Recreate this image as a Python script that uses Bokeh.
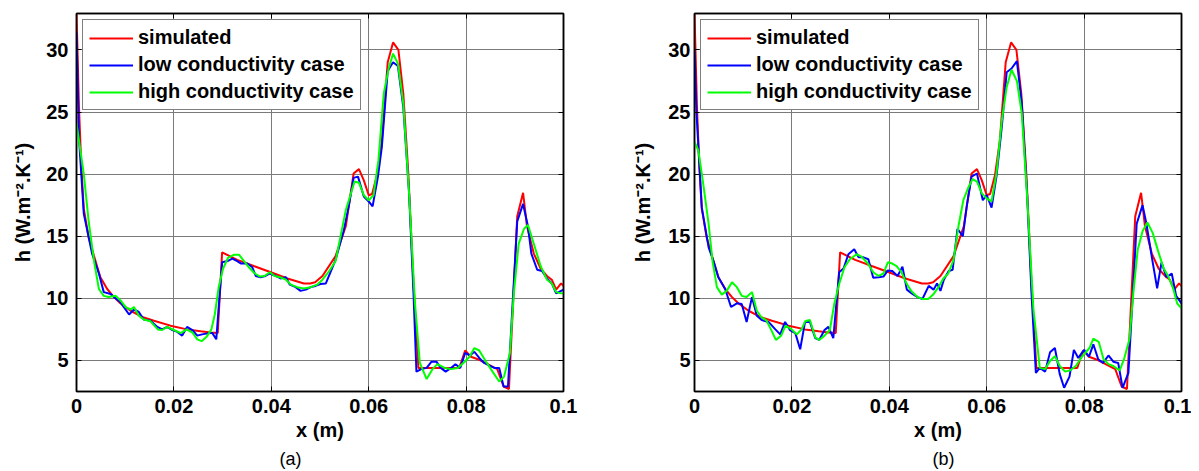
from bokeh.plotting import figure
from bokeh.models import Range1d, FixedTicker, LinearAxis, Legend, LegendItem, Title
from bokeh.layouts import row
from bokeh.embed import file_html
from bokeh.resources import INLINE

# ---------------- data ----------------
x_tick_labels = ["0", "0.02", "0.04", "0.06", "0.08", "0.1"]
y_ticks = [5, 10, 15, 20, 25, 30]
series_names = ["simulated", "low conductivity case", "high conductivity case"]
captions = ["(a)", "(b)"]

x_sim = [0, 0.0005, 0.001, 0.0015, 0.0025, 0.0036, 0.0049, 0.0063, 0.0077, 0.009, 0.0111,
         0.0135, 0.0159, 0.0193, 0.0227, 0.0255, 0.0275, 0.029, 0.0299, 0.033, 0.0364,
         0.0399, 0.0433, 0.0467, 0.048, 0.049, 0.0505, 0.0532, 0.0553, 0.0569, 0.058,
         0.059, 0.06, 0.0607, 0.0617, 0.0627, 0.0639, 0.065, 0.0661, 0.0671, 0.0681,
         0.0692, 0.0702, 0.0786, 0.0798, 0.081, 0.0824, 0.0844, 0.0864, 0.0877, 0.0888,
         0.0905, 0.0917, 0.0925, 0.0939, 0.0953, 0.0966, 0.0976, 0.0985, 0.0995, 0.1]
h_sim = [33, 25.5, 20.5, 17.2, 14.9, 13.4, 11.7, 10.75, 10.1, 9.6, 9.0,
         8.5, 8.2, 7.8, 7.5, 7.35, 7.25, 7.2, 13.7, 13.1, 12.6,
         12.1, 11.6, 11.2, 11.2, 11.3, 11.8, 13.4, 15.8, 20.05, 20.4,
         19.5, 18.3, 18.4, 19.9, 22.7, 29.0, 30.6, 30.0, 26.5, 20.3,
         11.2, 4.4, 4.4, 5.8, 5.3, 5.1, 4.7, 4.3, 2.9, 2.7,
         16.6, 18.5, 15.8, 13.6, 12.4, 11.8, 11.5, 10.7, 11.2, 11.0]

# panel (a)
x_low_a = [0, 0.0005, 0.0015, 0.0032, 0.0046, 0.0056, 0.007, 0.0077, 0.009, 0.0108, 0.0118,
           0.0128, 0.0138, 0.0152, 0.0166, 0.0176, 0.0186, 0.0197, 0.0207, 0.0217, 0.0227,
           0.0238, 0.0248, 0.0258, 0.0272, 0.0279, 0.0287, 0.0299, 0.031, 0.032, 0.033,
           0.0338, 0.0351, 0.0361, 0.0368, 0.0378, 0.0388, 0.0397, 0.0409, 0.0419, 0.043,
           0.0438, 0.045, 0.046, 0.0471, 0.0481, 0.0491, 0.0501, 0.0512, 0.0532, 0.0549,
           0.0559, 0.0569, 0.0578, 0.059, 0.06, 0.0608, 0.0619, 0.0627, 0.0639, 0.065,
           0.066, 0.0671, 0.0683, 0.0692, 0.0698, 0.0708, 0.0719, 0.0729, 0.0739, 0.0748,
           0.0758, 0.0769, 0.0778, 0.0788, 0.0798, 0.0808, 0.0817, 0.0827, 0.0837, 0.0847,
           0.0858, 0.0868, 0.0877, 0.0886, 0.0905, 0.0917, 0.0927, 0.0934, 0.0946, 0.0956,
           0.0966, 0.0976, 0.0985, 0.0995, 0.1]
h_low_a = [31.4, 23.0, 16.8, 13.6, 12.0, 10.5, 10.35, 10.1, 9.7, 8.7, 9.1,
           8.9, 8.3, 8.2, 7.7, 7.5, 7.7, 7.45, 7.3, 7.0, 7.7,
           7.45, 7.0, 7.1, 7.2, 7.2, 6.7, 12.9, 13.0, 13.2, 13.0,
           12.8, 12.8, 12.5, 11.8, 11.7, 11.8, 12.0, 11.8, 11.6, 11.7,
           11.1, 10.9, 10.6, 10.7, 10.9, 11.0, 11.15, 11.2, 13.1, 15.5,
           17.4, 19.7, 19.8, 18.2, 17.8, 17.4, 19.8, 22.2, 28.3, 29.0,
           28.7, 25.4, 18.4, 10.4, 4.1, 4.3, 4.4, 4.9, 4.9, 4.4,
           4.1, 4.4, 4.7, 4.4, 5.6, 5.4, 5.7, 5.2, 4.8, 4.6,
           4.4, 4.4, 2.9, 2.9, 16.2, 17.6, 15.8, 13.6, 12.3, 12.2,
           11.6, 11.2, 10.4, 10.6, 10.7]

x_high_a = [0, 0.0015, 0.0025, 0.0036, 0.0046, 0.0056, 0.0066, 0.008, 0.009, 0.0101, 0.0111,
            0.0118, 0.0128, 0.0138, 0.0152, 0.0167, 0.0176, 0.0186, 0.02, 0.0214, 0.0226,
            0.0238, 0.0248, 0.0257, 0.0267, 0.0277, 0.0284, 0.0292, 0.0301, 0.0311, 0.0323,
            0.0334, 0.0344, 0.0354, 0.0366, 0.0377, 0.0386, 0.0397, 0.0407, 0.0418, 0.043,
            0.044, 0.0453, 0.0467, 0.0481, 0.0494, 0.0505, 0.0519, 0.0532, 0.0553, 0.0571,
            0.058, 0.059, 0.06, 0.061, 0.062, 0.0631, 0.0641, 0.065, 0.066, 0.0671,
            0.0683, 0.0695, 0.0705, 0.0719, 0.0731, 0.0741, 0.0756, 0.0769, 0.0783, 0.0797,
            0.0807, 0.0817, 0.0827, 0.0841, 0.0856, 0.0868, 0.0878, 0.089, 0.0898, 0.0908,
            0.0919, 0.0927, 0.0939, 0.0953, 0.0966, 0.0976, 0.0985, 0.0995, 0.1]
h_high_a = [24.1, 20.0, 16.2, 13.0, 10.75, 10.2, 10.1, 10.2, 9.85, 9.3, 9.1,
            9.3, 8.6, 8.3, 8.15, 7.5, 7.45, 7.7, 7.45, 7.2, 7.5,
            7.25, 6.7, 6.55, 6.9, 7.5, 8.7, 10.9, 12.4, 13.25, 13.5,
            13.5, 13.0, 12.5, 12.0, 11.75, 11.8, 12.1, 11.8, 11.7, 11.5,
            11.1, 10.9, 10.8, 10.9, 11.1, 11.5, 12.2, 13.0, 17.1, 19.4,
            19.3, 18.3, 17.9, 18.3, 21.1, 26.5, 28.5, 29.7, 28.9, 25.7,
            18.4, 9.6, 4.8, 3.5, 4.3, 4.7, 4.4, 4.3, 4.4, 4.9,
            5.3, 6.0, 5.8, 4.9, 4.0, 3.3, 3.7, 5.6, 10.4, 14.4,
            15.6, 15.9, 14.4, 12.6, 11.5, 11.2, 10.5, 10.4, 10.4]

# panel (b)
x_low_b = [0, 0.0004, 0.0015, 0.0029, 0.0039, 0.0049, 0.0063, 0.0075, 0.0087, 0.0097, 0.0107,
           0.0118, 0.0128, 0.0138, 0.0152, 0.0166, 0.0176, 0.0186, 0.0196, 0.0207, 0.0217,
           0.0227, 0.0237, 0.0248, 0.0256, 0.0267, 0.0275, 0.0285, 0.0297, 0.0306, 0.0316,
           0.0328, 0.0337, 0.0347, 0.0357, 0.0367, 0.0378, 0.0388, 0.0397, 0.0406, 0.0417,
           0.0427, 0.0436, 0.0446, 0.0458, 0.0468, 0.0481, 0.0491, 0.0498, 0.0505, 0.0512,
           0.0522, 0.053, 0.054, 0.0551, 0.0559, 0.0569, 0.058, 0.0592, 0.06, 0.061,
           0.062, 0.0631, 0.0641, 0.0651, 0.0662, 0.0672, 0.0683, 0.0692, 0.0701, 0.0709,
           0.072, 0.073, 0.074, 0.075, 0.0759, 0.077, 0.0779, 0.0788, 0.08, 0.081,
           0.0819, 0.0829, 0.0839, 0.085, 0.086, 0.087, 0.0879, 0.0891, 0.0908, 0.092,
           0.0928, 0.094, 0.095, 0.0959, 0.0969, 0.098, 0.0989, 0.1]
h_low_b = [30.0, 25.0, 17.3, 14.1, 13.0, 11.7, 10.75, 9.3, 9.6, 9.55, 8.1,
           10.1, 8.6, 8.25, 8.1, 7.5, 7.1, 8.1, 7.45, 7.2, 5.9,
           8.1, 8.1, 6.8, 6.65, 7.45, 7.7, 6.8, 12.1, 12.4, 13.55,
           13.95, 13.3, 13.3, 13.15, 11.65, 11.7, 11.75, 12.25, 12.2, 11.8,
           12.55, 10.7, 10.4, 10.1, 9.95, 11.0, 10.7, 11.2, 10.6, 11.5,
           12.2, 12.3, 15.6, 15.0, 17.4, 19.8, 20.05, 17.9, 18.3, 17.3,
           19.8, 23.8, 28.2, 28.5, 29.1, 25.7, 18.4, 10.4, 4.0, 4.4,
           4.1, 5.65, 6.0, 3.9, 2.8, 3.7, 5.85, 5.2, 5.85, 5.3,
           6.3, 5.1, 4.8, 5.4, 4.9, 4.8, 2.8, 4.0, 16.0, 17.5,
           16.0, 13.1, 10.8, 12.9, 11.7, 12.0, 10.2, 9.6]

x_high_b = [0, 0.0008, 0.0018, 0.0029, 0.0037, 0.0046, 0.0056, 0.0066, 0.0077, 0.0087, 0.0097,
            0.0107, 0.0118, 0.0128, 0.0137, 0.0148, 0.0157, 0.0167, 0.0178, 0.0187, 0.0198,
            0.021, 0.022, 0.0227, 0.0237, 0.0248, 0.0256, 0.0267, 0.0278, 0.0287, 0.0297,
            0.0308, 0.0319, 0.0333, 0.0343, 0.0356, 0.0367, 0.0378, 0.0388, 0.0397, 0.0406,
            0.0415, 0.0425, 0.0436, 0.0446, 0.0458, 0.0469, 0.048, 0.049, 0.0501, 0.0511,
            0.0521, 0.0532, 0.0542, 0.0552, 0.0562, 0.0571, 0.058, 0.059, 0.06, 0.061,
            0.062, 0.0631, 0.0641, 0.0651, 0.0662, 0.0672, 0.0683, 0.0696, 0.0709, 0.072,
            0.073, 0.074, 0.075, 0.0761, 0.0771, 0.0783, 0.0792, 0.0802, 0.0811, 0.0819,
            0.083, 0.084, 0.085, 0.086, 0.0873, 0.0882, 0.0893, 0.0901, 0.091, 0.092,
            0.093, 0.0941, 0.0952, 0.0963, 0.0973, 0.0983, 0.0991, 0.1]
h_high_b = [22.6, 21.9, 19.2, 16.0, 13.0, 10.9, 10.3, 10.6, 11.3, 10.9, 10.2,
            10.1, 10.5, 9.0, 8.5, 8.2, 7.5, 6.65, 7.0, 7.8, 7.55,
            7.1, 7.5, 8.15, 8.25, 6.85, 6.65, 7.0, 7.45, 9.55, 11.15,
            12.5, 13.15, 13.55, 13.35, 12.8, 12.1, 11.8, 12.0, 12.9, 12.8,
            12.6, 12.1, 11.15, 10.55, 10.1, 9.95, 9.95, 10.3, 10.9, 11.6,
            12.0, 13.1, 15.8, 17.9, 18.9, 19.6, 19.4, 18.45, 18.05, 17.8,
            20.05, 24.3, 27.0, 28.4, 27.5, 24.9, 18.2, 9.1, 4.4, 4.3,
            4.95, 5.35, 4.55, 4.1, 4.2, 4.55, 5.1, 5.6, 6.0, 6.75,
            6.5, 5.1, 4.7, 4.55, 4.2, 5.1, 6.7, 10.4, 13.9, 15.4,
            16.1, 15.25, 13.8, 12.45, 11.75, 10.8, 9.6, 9.2]

# ---------------- styling ----------------
FONT = "Liberation Sans"
COLORS = ["#ff0000", "#0000ff", "#00ff00"]
x_ticks = [float(s) for s in x_tick_labels]


def make_panel(x_low, h_low, x_high, h_high, caption, border_left, border_right,
               tick_standoff, label_standoff, caption_offset):
    p = figure(frame_width=487, frame_height=378,
               x_range=Range1d(0, 0.1), y_range=Range1d(2.5, 32.93),
               output_backend="svg", toolbar_location=None,
               min_border_left=border_left, min_border_right=border_right,
               min_border_top=13, min_border_bottom=80,
               outline_line_color="black", outline_line_width=1.5,
               background_fill_color="white", border_fill_color="white")

    r1 = p.line(x_sim, h_sim, line_color=COLORS[0], line_width=2)
    r2 = p.line(x_low, h_low, line_color=COLORS[1], line_width=2)
    r3 = p.line(x_high, h_high, line_color=COLORS[2], line_width=2)

    xt = FixedTicker(ticks=x_ticks)
    yt = FixedTicker(ticks=y_ticks)
    p.xaxis.ticker = xt
    p.yaxis.ticker = yt
    p.xgrid.ticker = xt
    p.ygrid.ticker = yt
    p.xaxis.major_label_overrides = {s: s for s in x_tick_labels}

    for ax in (p.xaxis[0], p.yaxis[0]):
        ax.axis_line_color = "black"
        ax.axis_line_width = 1.5
        ax.major_tick_in = 5
        ax.major_tick_out = 0
        ax.major_tick_line_color = "black"
        ax.minor_tick_line_color = None
        ax.major_label_text_font = FONT
        ax.major_label_text_font_style = "bold"
        ax.major_label_text_font_size = "20px"
        ax.major_label_text_color = "black"
        ax.axis_label_text_font = FONT
        ax.axis_label_text_font_style = "bold"
        ax.axis_label_text_font_size = "20px"
        ax.axis_label_text_color = "black"

    p.xaxis.axis_label = "x (m)"
    p.xaxis.major_label_standoff = 7
    p.xaxis.axis_label_standoff = 3
    p.yaxis.axis_label = "h (W.m\u207b\u00b2.K\u207b\u00b9)"
    p.yaxis.major_label_standoff = tick_standoff
    p.yaxis.axis_label_standoff = label_standoff

    for place, tk in (("above", xt), ("right", yt)):
        ax = LinearAxis(ticker=tk, major_tick_in=5, major_tick_out=0,
                        major_tick_line_color="black", minor_tick_line_color=None,
                        axis_line_color="black", axis_line_width=1.5,
                        major_label_text_font_size="0px", major_label_standoff=0,
                        major_label_text_color=None)
        p.add_layout(ax, place)

    for g in (p.xgrid[0], p.ygrid[0]):
        g.grid_line_color = "#7a7a7a"
        g.grid_line_width = 1

    legend = Legend(items=[LegendItem(label=series_names[0], renderers=[r1]),
                           LegendItem(label=series_names[1], renderers=[r2]),
                           LegendItem(label=series_names[2], renderers=[r3])],
                    location="top_left", margin=6, padding=6, spacing=4,
                    label_height=20, glyph_height=20, glyph_width=44, label_standoff=5,
                    label_text_font=FONT, label_text_font_style="bold",
                    label_text_font_size="20px", label_text_color="black",
                    border_line_color="black", border_line_width=1.5,
                    background_fill_color="white", background_fill_alpha=1)
    p.add_layout(legend)

    t = Title(text=caption, align="left", offset=caption_offset, standoff=6,
              text_font=FONT, text_font_style="normal", text_font_size="18px",
              text_color="black")
    p.add_layout(t, "below")
    return p


p1 = make_panel(x_low_a, h_low_a, x_high_a, h_high_a, captions[0], 76, 45, 8, 9, 203)
p2 = make_panel(x_low_b, h_low_b, x_high_b, h_high_b, captions[1], 86, 10, 4, 11, 238)

layout = row(p1, p2)
open("out.html", "w").write(file_html(layout, INLINE))
